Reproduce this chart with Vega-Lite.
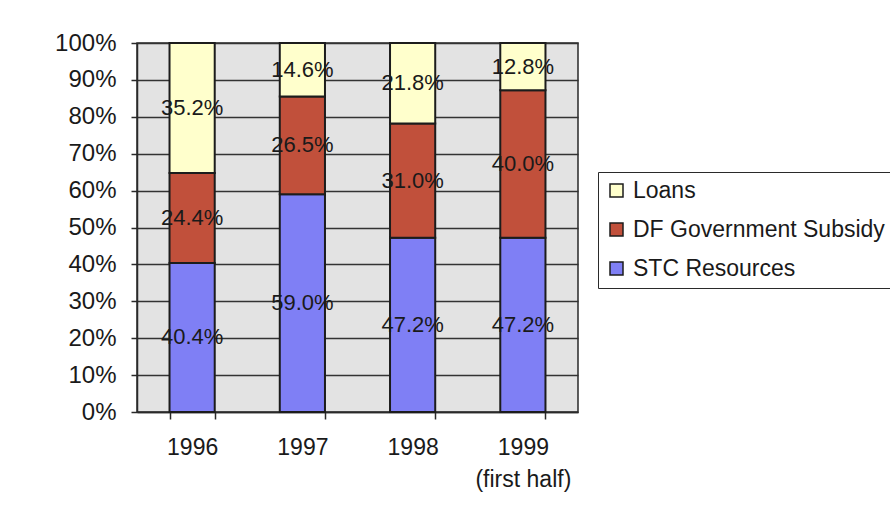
{
  "$schema": "https://vega.github.io/schema/vega-lite/v6.json",
  "autosize": {"type": "none"},
  "width": 441,
  "height": 369,
  "padding": {"left": 137, "top": 43, "right": 312, "bottom": 105},
  "background": "#ffffff",
  "config": {
    "font": "Liberation Sans",
    "view": {"fill": "#e3e3e3", "stroke": "#2a2a2a", "strokeWidth": 1.5},
    "axisY": {
      "title": null,
      "format": ".0%",
      "labelOverlap": false,
      "labelFlush": false,
      "labelFontSize": 24,
      "labelColor": "#1a1a1a",
      "labelPadding": 15,
      "tickSize": 6,
      "tickColor": "#2a2a2a",
      "tickWidth": 1.5,
      "domainColor": "#2a2a2a",
      "domainWidth": 1.5,
      "grid": true,
      "gridColor": "#333333",
      "gridWidth": 1.5,
      "gridOpacity": 1
    }
  },
  "data": {
    "values": [
      {"year": "1996", "source": "STC Resources", "ord": 1, "share": 0.404},
      {"year": "1996", "source": "DF Government Subsidy", "ord": 2, "share": 0.244},
      {"year": "1996", "source": "Loans", "ord": 3, "share": 0.352},
      {"year": "1997", "source": "STC Resources", "ord": 1, "share": 0.590},
      {"year": "1997", "source": "DF Government Subsidy", "ord": 2, "share": 0.265},
      {"year": "1997", "source": "Loans", "ord": 3, "share": 0.146},
      {"year": "1998", "source": "STC Resources", "ord": 1, "share": 0.472},
      {"year": "1998", "source": "DF Government Subsidy", "ord": 2, "share": 0.310},
      {"year": "1998", "source": "Loans", "ord": 3, "share": 0.218},
      {"year": "1999 (first half)", "source": "STC Resources", "ord": 1, "share": 0.472},
      {"year": "1999 (first half)", "source": "DF Government Subsidy", "ord": 2, "share": 0.400},
      {"year": "1999 (first half)", "source": "Loans", "ord": 3, "share": 0.128}
    ]
  },
  "transform": [
    {"stack": "share", "groupby": ["year"], "sort": [{"field": "ord"}], "as": ["lo", "hi"]}
  ],
  "encoding": {
    "x": {
      "field": "year",
      "type": "nominal",
      "sort": null,
      "scale": {"paddingInner": 0.59, "paddingOuter": 0.295},
      "axis": {
        "title": null,
        "labelAngle": 0,
        "labelFontSize": 23,
        "labelColor": "#1a1a1a",
        "labelPadding": 17,
        "labelLineHeight": 32,
        "labelExpr": "datum.label == '1999 (first half)' ? ['1999', '(first half)'] : datum.label",
        "ticks": true,
        "tickBand": "extent",
        "tickSize": 7,
        "tickColor": "#2a2a2a",
        "tickWidth": 1.5,
        "domainColor": "#2a2a2a",
        "domainWidth": 1.5,
        "grid": false
      }
    }
  },
  "layer": [
    {
      "mark": {"type": "bar", "stroke": "#1c1c1c", "strokeWidth": 2},
      "encoding": {
        "y": {
          "field": "lo",
          "type": "quantitative",
          "scale": {"domain": [0, 1], "nice": false, "clamp": true},
          "axis": {"values": [0, 0.1, 0.2, 0.3, 0.4, 0.5, 0.6, 0.7, 0.8, 0.9, 1]}
        },
        "y2": {"field": "hi"},
        "color": {
          "field": "source",
          "type": "nominal",
          "scale": {
            "domain": ["Loans", "DF Government Subsidy", "STC Resources"],
            "range": ["#ffffcc", "#c1503b", "#7f7ff5"]
          },
          "legend": {
            "title": null,
            "orient": "none",
            "legendX": 461,
            "legendY": 129,
            "symbolType": "square",
            "symbolSize": 169,
            "symbolStrokeColor": "#1c1c1c",
            "symbolStrokeWidth": 1.5,
            "labelFontSize": 23,
            "labelLimit": 400,
            "labelColor": "#1a1a1a",
            "labelOffset": 5,
            "rowPadding": 15,
            "padding": 7,
            "strokeColor": "#2a2a2a",
            "fillColor": "#ffffff"
          }
        }
      }
    },
    {
      "transform": [
        {"fold": ["lo", "hi"], "as": ["edge", "pos"]},
        {"aggregate": [{"op": "mean", "field": "pos", "as": "mid"}], "groupby": ["year", "source", "share"]}
      ],
      "mark": {"type": "text", "fontSize": 22, "color": "#1a1a1a", "align": "center", "baseline": "middle"},
      "encoding": {
        "y": {
          "field": "mid",
          "type": "quantitative",
          "axis": {"values": [0, 0.1, 0.2, 0.3, 0.4, 0.5, 0.6, 0.7, 0.8, 0.9, 1]}
        },
        "text": {"field": "share", "type": "quantitative", "format": ".1%"}
      }
    }
  ]
}
